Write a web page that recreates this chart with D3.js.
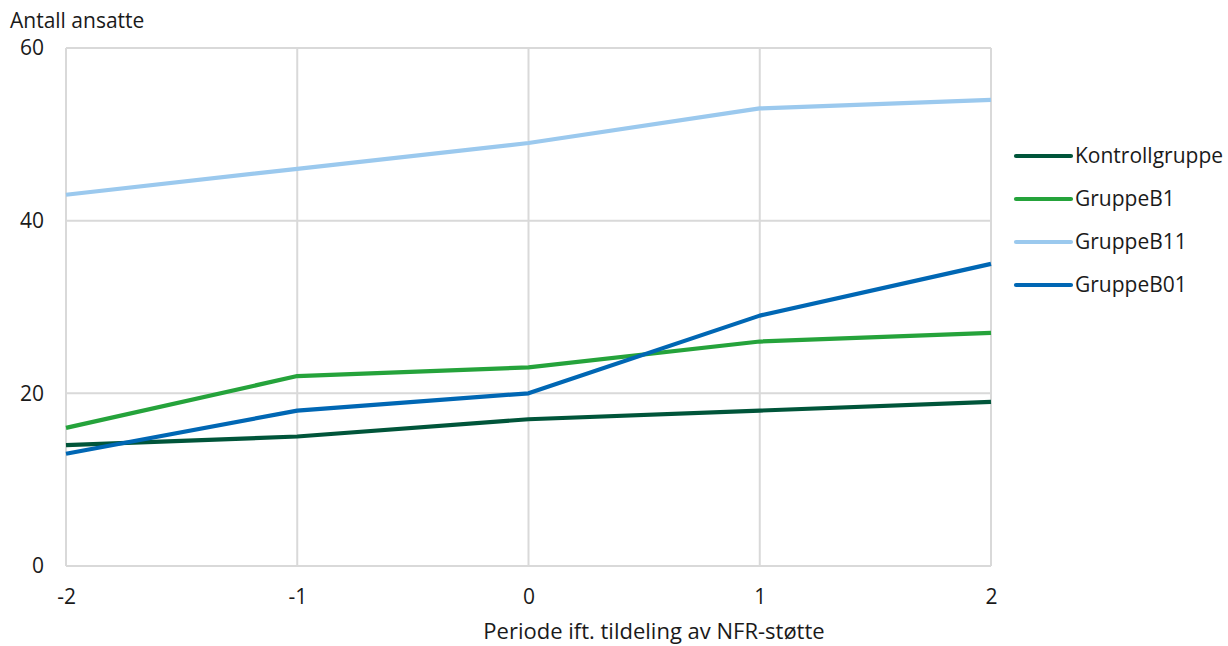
<!DOCTYPE html>
<html>
<head>
<meta charset="utf-8">
<script src="https://cdn.jsdelivr.net/npm/d3@7"></script>
<style>
  html, body { margin: 0; padding: 0; background: #fff; }
  svg { display: block; font-family: "Open Sans", "Noto Sans", sans-serif; }
</style>
</head>
<body>
<svg id="chart" width="1228" height="646"></svg>
<script>
// Periods relative to NFR funding
const periods = [-2, -1, 0, 1, 2];
const seriesNames = ["Kontrollgruppe", "GruppeB1", "GruppeB11", "GruppeB01"];
const kontrollgruppe = [14, 15, 17, 18, 19];
const gruppeB1 = [16, 22, 23, 26, 27];
const gruppeB11 = [43, 46, 49, 53, 54];
const gruppeB01 = [13, 18, 20, 29, 35];
const yTicks = [0, 20, 40, 60];
const colors = ["#00553a", "#25a33b", "#9bc9ee", "#0067b4"];

const seriesValues = [kontrollgruppe, gruppeB1, gruppeB11, gruppeB01];

const FONT = 21;
const TEXT = "#1a1a1a";

const svg = d3.select("#chart");
const plot = { left: 66, right: 991, top: 48, bottom: 566 };

const x = d3.scaleLinear().domain([-2, 2]).range([plot.left, plot.right]);
const y = d3.scaleLinear().domain([0, 60]).range([plot.bottom, plot.top]);

// Grid lines
const grid = svg.append("g");
grid.selectAll("line.h").data(yTicks).join("line")
  .attr("x1", plot.left).attr("x2", plot.right)
  .attr("y1", d => y(d)).attr("y2", d => y(d))
  .attr("stroke", "#d9d9d9").attr("stroke-width", 2);
grid.selectAll("line.v").data(periods).join("line")
  .attr("x1", d => x(d)).attr("x2", d => x(d))
  .attr("y1", plot.top).attr("y2", plot.bottom)
  .attr("stroke", "#d9d9d9").attr("stroke-width", 2);

// Y axis labels
const yAxis = d3.axisLeft(y).tickValues(yTicks).tickSize(0).tickPadding(22);
svg.append("g").attr("transform", `translate(${plot.left},0)`).call(yAxis)
  .call(g => g.select(".domain").remove())
  .selectAll("text").attr("font-size", FONT).attr("fill", TEXT)
  .attr("font-family", "'Open Sans', 'Noto Sans', sans-serif");

// X axis labels
const xAxis = d3.axisBottom(x).tickValues(periods).tickSize(0).tickPadding(0)
  .tickFormat(d => d < 0 ? "-" + Math.abs(d) : String(d));
svg.append("g").attr("transform", `translate(0,${plot.bottom})`).call(xAxis)
  .call(g => g.select(".domain").remove())
  .selectAll("text").attr("font-size", FONT).attr("fill", TEXT)
  .attr("font-family", "'Open Sans', 'Noto Sans', sans-serif")
  .attr("y", 38).attr("dy", 0);

// Axis titles
svg.append("text").attr("x", 10).attr("y", 28)
  .attr("font-size", FONT).attr("fill", TEXT).text("Antall ansatte");
svg.append("text").attr("x", 654).attr("y", 639).attr("text-anchor", "middle")
  .attr("font-size", 22).attr("fill", TEXT).text("Periode ift. tildeling av NFR-støtte");

// Lines
const line = d3.line().x((d, i) => x(periods[i])).y(d => y(d));
svg.append("g").selectAll("path").data(seriesValues).join("path")
  .attr("d", d => line(d))
  .attr("fill", "none")
  .attr("stroke", (d, i) => colors[i])
  .attr("stroke-width", 4.2)
  .attr("stroke-linejoin", "round");

// Legend
const legend = svg.append("g").attr("transform", "translate(1016,156)");
const items = legend.selectAll("g").data(seriesNames).join("g")
  .attr("transform", (d, i) => `translate(0,${i * 43})`);
items.append("line").attr("x1", 0).attr("x2", 55).attr("y1", 0).attr("y2", 0)
  .attr("stroke", (d, i) => colors[i]).attr("stroke-width", 4.2).attr("stroke-linecap", "round");
items.append("text").attr("x", 59).attr("y", 0).attr("dy", "0.35em")
  .attr("font-size", FONT).attr("fill", TEXT).text(d => d);
</script>
</body>
</html>
